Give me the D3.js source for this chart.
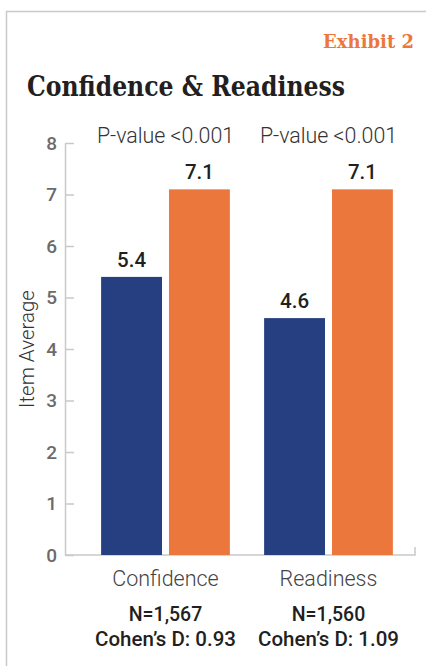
<!DOCTYPE html>
<html><head><meta charset="utf-8">
<script src="https://cdn.jsdelivr.net/npm/d3@7"></script>
<style>body{margin:0;background:#fff}svg{display:block}</style>
</head><body>
<svg id="c" width="426" height="666"></svg>
<script>
const categories = ["Confidence", "Readiness"];
const seriesNames = ["Before", "After"];
const seriesBefore = [5.4, 4.6];
const seriesAfter = [7.1, 7.1];
const pValues = ["P-value <0.001", "P-value <0.001"];
const nLabels = ["N=1,567", "N=1,560"];
const cohenLabels = ["Cohen\u2019s D: 0.93", "Cohen\u2019s D: 1.09"];
const yTicks = [0,1,2,3,4,5,6,7,8];
const colors = ["#263F80", "#EC773D"];

const svg = d3.select("#c");
// frame
svg.append("path").attr("d","M6.5,700 V11.5 H440").attr("fill","none").attr("stroke","#c9c9c9").attr("stroke-width",1.5);

svg.append("text").attr("x",414).attr("y",48).attr("text-anchor","end")
  .attr("font-family","DejaVu Serif").attr("font-weight","bold").attr("font-size",18)
  .attr("fill","#EC773D").text("Exhibit 2");
svg.append("text").attr("x",27).attr("y",96)
  .attr("font-family","DejaVu Serif").attr("font-weight","bold").attr("font-size",28)
  .attr("fill","#231f20").attr("textLength",318).attr("lengthAdjust","spacingAndGlyphs").text("Confidence & Readiness");

const y = d3.scaleLinear().domain([0,8]).range([555,143]);
const x0 = d3.scaleBand().domain(categories).range([84,410]).paddingInner(0.21).paddingOuter(0.105);
const x1 = d3.scaleBand().domain(seriesNames).range([0,x0.bandwidth()]).paddingInner(0.103);

// y axis
const yAxis = svg.append("g").attr("transform","translate(65,0)")
  .call(d3.axisRight(y).tickValues(yTicks).tickSize(9).tickSizeOuter(0).tickFormat(""));
yAxis.select(".domain").attr("stroke","#c9c9c9").attr("stroke-width",1.5);
yAxis.selectAll(".tick line").attr("stroke","#c9c9c9").attr("stroke-width",1.5);
svg.append("g").selectAll("text").data(yTicks).join("text")
  .attr("x",57).attr("y",d=>y(d)).attr("dy","0.36em").attr("text-anchor","end")
  .attr("font-family","Roboto").attr("font-weight",500).attr("font-size",19).attr("fill","#6b6b6b").text(d=>d);

svg.append("text").attr("transform","translate(34,349) rotate(-90)").attr("text-anchor","middle")
  .attr("font-family","Roboto").attr("font-weight",300).attr("font-size",20.5).attr("fill","#333").text("Item Average");

// x axis baseline
svg.append("path").attr("d",`M65,${y(0)} H415 V${y(0)-8}`).attr("fill","none").attr("stroke","#c9c9c9").attr("stroke-width",1.5);

const rows = categories.map((c,i)=>({cat:c, vals:[seriesBefore[i], seriesAfter[i]], i}));
const g = svg.append("g").selectAll("g").data(rows).join("g").attr("transform",d=>`translate(${x0(d.cat)},0)`);
g.selectAll("rect").data(d=>d.vals.map((v,j)=>({v,s:seriesNames[j],j}))).join("rect")
  .attr("x",d=>x1(d.s)).attr("width",x1.bandwidth()).attr("y",d=>y(d.v)).attr("height",d=>y(0)-y(d.v)).attr("fill",d=>colors[d.j]);
g.selectAll("text.val").data(d=>d.vals.map((v,j)=>({v,s:seriesNames[j]}))).join("text").attr("class","val")
  .attr("x",d=>x1(d.s)+x1.bandwidth()/2).attr("y",d=>y(d.v)-10).attr("text-anchor","middle")
  .attr("font-family","Roboto").attr("font-weight",500).attr("font-size",20.5).attr("fill","#231f20").text(d=>d.v.toFixed(1));

const cx = d=>x0(d.cat)+x0.bandwidth()/2;
svg.append("g").selectAll("text").data(rows).join("text").attr("x",cx).attr("y",143).attr("text-anchor","middle")
  .attr("font-family","Roboto").attr("font-weight",300).attr("font-size",21.4).attr("fill","#333").text(d=>pValues[d.i]);
svg.append("g").selectAll("text").data(rows).join("text").attr("x",cx).attr("y",586).attr("text-anchor","middle")
  .attr("font-family","Roboto").attr("font-weight",300).attr("font-size",21.5).attr("fill","#444").text(d=>d.cat);
svg.append("g").selectAll("text").data(rows).join("text").attr("x",cx).attr("y",621).attr("text-anchor","middle")
  .attr("font-family","Roboto").attr("font-weight",500).attr("font-size",19.5).attr("fill","#231f20").text(d=>nLabels[d.i]);
svg.append("g").selectAll("text").data(rows).join("text").attr("x",cx).attr("y",646).attr("text-anchor","middle")
  .attr("font-family","Roboto").attr("font-weight",500).attr("font-size",20.5).attr("fill","#231f20").text(d=>cohenLabels[d.i]);
</script>
</body></html>
